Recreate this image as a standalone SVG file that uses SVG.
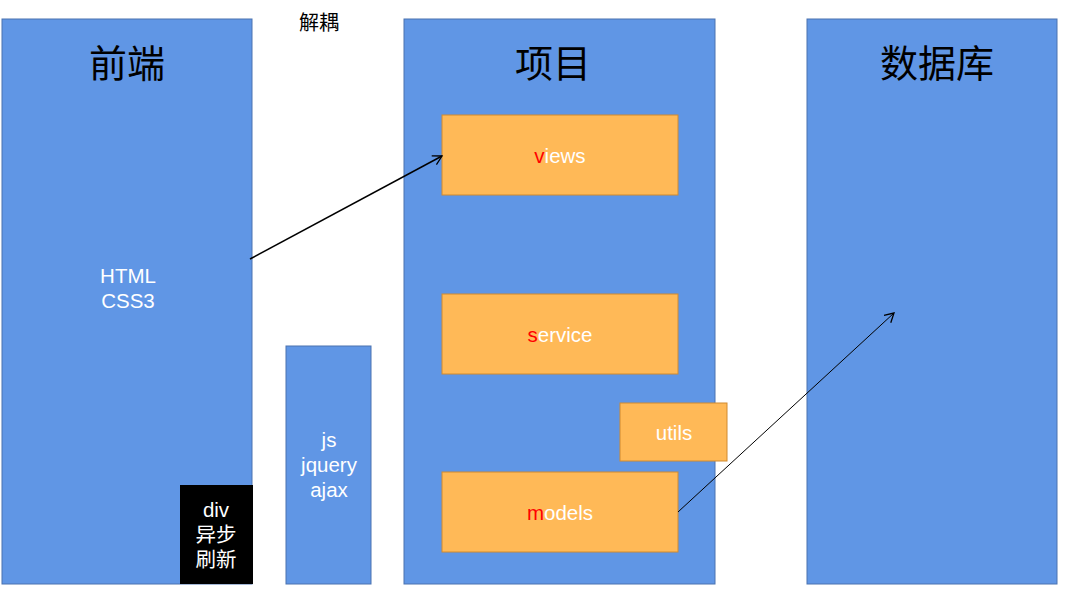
<svg xmlns="http://www.w3.org/2000/svg" width="1067" height="598" viewBox="0 0 1067 598">
<defs>
<style>
.col{fill:#6096e5;stroke:#4a72b0;stroke-width:1}
.box{fill:#ffb957;stroke:#d08a30;stroke-width:1}
.t{font-family:"Liberation Sans","Noto Sans CJK SC",sans-serif;text-anchor:middle}
.title{font-size:38px;fill:#000}
.w{font-size:20.5px;fill:#fff}
.r{fill:#ff0000}
.edge{fill:none;stroke:#000}
</style>
<marker id="arr" markerWidth="12" markerHeight="12" refX="10" refY="6" orient="auto" markerUnits="userSpaceOnUse">
<path d="M1,1 L10,6 L1,11" fill="none" stroke="#000" stroke-width="1.3"/>
</marker>
</defs>
<rect width="1067" height="598" fill="#fff"/>
<g id="frontend">
<rect class="col" x="2" y="19" width="250" height="565"/>
<text class="t title" x="127" y="77">前端</text>
<text class="t w" x="128" y="283">HTML</text>
<text class="t w" x="128" y="308">CSS3</text>
</g>
<g id="divbox">
<rect x="180" y="485" width="73" height="99" fill="#000"/>
<text class="t w" x="216" y="517">div</text>
<text class="t w" x="216" y="542">异步</text>
<text class="t w" x="216" y="567">刷新</text>
</g>
<g id="decouple">
<text class="t" x="319" y="30" font-size="20" fill="#000">解耦</text>
</g>
<g id="js">
<rect class="col" x="286" y="346" width="85" height="238"/>
<text class="t w" x="329" y="447">js</text>
<text class="t w" x="329" y="472">jquery</text>
<text class="t w" x="329" y="497">ajax</text>
</g>
<g id="project">
<rect class="col" x="404" y="19" width="311" height="565"/>
<text class="t title" x="553" y="77">项目</text>
</g>
<g id="views">
<rect class="box" x="442" y="115" width="236" height="80"/>
<text class="t w" x="560" y="163"><tspan class="r">v</tspan>iews</text>
</g>
<g id="service">
<rect class="box" x="442" y="294" width="236" height="80"/>
<text class="t w" x="560" y="342"><tspan class="r">s</tspan>ervice</text>
</g>
<g id="utils">
<rect class="box" x="620" y="403" width="107" height="58"/>
<text class="t w" x="674" y="440">utils</text>
</g>
<g id="models">
<rect class="box" x="442" y="472" width="236" height="80"/>
<text class="t w" x="560" y="520"><tspan class="r">m</tspan>odels</text>
</g>
<g id="database">
<rect class="col" x="807" y="19" width="250" height="565"/>
<text class="t title" x="937" y="77">数据库</text>
</g>
<g id="connectors">
<line class="edge" x1="250" y1="259" x2="442" y2="156" stroke-width="1.5" marker-end="url(#arr)"/>
<line class="edge" x1="678" y1="512" x2="894" y2="313" stroke-width="1" marker-end="url(#arr)"/>
</g>
</svg>
